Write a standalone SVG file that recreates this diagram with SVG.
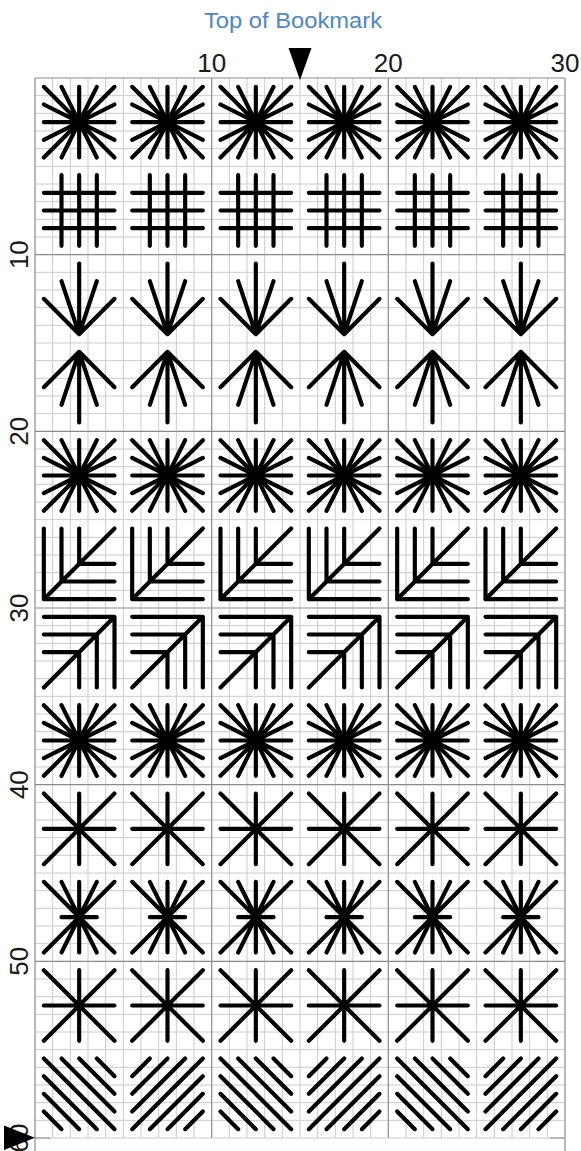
<svg xmlns="http://www.w3.org/2000/svg" xmlns:xlink="http://www.w3.org/1999/xlink" width="581" height="1151" viewBox="0 0 581 1151">
<style>
.minor{fill:none;stroke:#cbcbcb;stroke-width:1}
.major{fill:none;stroke:#8a8a8a;stroke-width:1.2}
.st{fill:none;stroke:#000;stroke-width:0.235;stroke-linecap:round;stroke-linejoin:round}
.num{font-family:"Liberation Sans",Arial,sans-serif;font-size:26px;fill:#1a1a1a;text-anchor:middle}
.title{font-family:"Liberation Sans",Arial,sans-serif;font-size:22px;fill:#4f87c6;text-anchor:middle}
.mark{fill:#000}
</style>
<defs>
<g id="star" transform="scale(17.6667)"><path class="st" d="M-2 0H2M0-2V2M-2-2L2 2M2-2L-2 2M-1-2L1 2M1-2L-1 2M-2-1L2 1M-2 1L2-1"/></g>
<g id="hash" transform="scale(17.6667)"><path class="st" d="M-2-1H2M-2 0H2M-2 1H2M-1-2V2M0-2V2M1-2V2"/></g>
<g id="down" transform="scale(17.6667)"><path class="st" d="M0-2V2M-1-1L0 2M1-1L0 2M-2 0L0 2M2 0L0 2"/></g>
<g id="up" transform="scale(17.6667)"><path class="st" d="M0 2V-2M-1 1L0-2M1 1L0-2M-2 0L0-2M2 0L0-2"/></g>
<g id="lcorner" transform="scale(17.6667)"><path class="st" d="M-2-2V2H2M-2 2L2-2M-1-2V1M0-2V0M0 0H2M-1 1H2"/></g>
<g id="rcorner" transform="scale(17.6667)"><path class="st" d="M-2-2H2V2M-2 2L2-2M-2-1H1M-2 0H0M0 0V2M1-1V2"/></g>
<g id="aster" transform="scale(17.6667)"><path class="st" d="M-2-2L2 2M2-2L-2 2M-2 0H2M0-2V2"/></g>
<g id="star2" transform="scale(17.6667)"><path class="st" d="M-2-2L2 2M2-2L-2 2M0-2V2M-1-2L1 2M1-2L-1 2M-1 0H1"/></g>
<g id="dback" transform="scale(17.6667)"><path class="st" d="M-2-2L2 2M-1-2L2 1M0-2L2 0M1-2L2-1M-2-1L1 2M-2 0L0 2M-2 1L-1 2"/></g>
<g id="dfwd" transform="scale(17.6667)"><path class="st" d="M-2 2L2-2M-2 1L1-2M-2 0L0-2M-2-1L-1-2M-1 2L2-1M0 2L2 0M1 2L2 1"/></g>
</defs>
<rect width="581" height="1151" fill="#fff"/>
<g id="grid">
<path class="minor" d="M52.667 78V1138M70.333 78V1138M88 78V1138M105.667 78V1138M123.333 78V1138M141 78V1138M158.667 78V1138M176.333 78V1138M194 78V1138M229.333 78V1138M247 78V1138M264.667 78V1138M282.333 78V1138M300 78V1138M317.667 78V1138M335.333 78V1138M353 78V1138M370.667 78V1138M406 78V1138M423.667 78V1138M441.333 78V1138M459 78V1138M476.667 78V1138M494.333 78V1138M512 78V1138M529.667 78V1138M547.333 78V1138"/>
<path class="minor" d="M35 95.667H565M35 113.333H565M35 131H565M35 148.667H565M35 166.333H565M35 184H565M35 201.667H565M35 219.333H565M35 237H565M35 272.333H565M35 290H565M35 307.667H565M35 325.333H565M35 343H565M35 360.667H565M35 378.333H565M35 396H565M35 413.667H565M35 449H565M35 466.667H565M35 484.333H565M35 502H565M35 519.667H565M35 537.333H565M35 555H565M35 572.667H565M35 590.333H565M35 625.667H565M35 643.333H565M35 661H565M35 678.667H565M35 696.333H565M35 714H565M35 731.667H565M35 749.333H565M35 767H565M35 802.333H565M35 820H565M35 837.667H565M35 855.333H565M35 873H565M35 890.667H565M35 908.333H565M35 926H565M35 943.667H565M35 979H565M35 996.667H565M35 1014.333H565M35 1032H565M35 1049.667H565M35 1067.333H565M35 1085H565M35 1102.667H565M35 1120.333H565M35 1138H565"/>
<path class="major" d="M211.667 78V1138M388.333 78V1138M35 254.667H565M35 431.333H565M35 608H565M35 784.667H565M35 961.333H565M35 78H565M35 78V1151M565 78V1151M35 1138H50M550 1138H565"/>
</g>
<g id="labels">
<text class="title" x="293" y="28" textLength="178" lengthAdjust="spacingAndGlyphs">Top of Bookmark</text>
<text class="num" x="211.667" y="71.5">10</text>
<text class="num" x="388.333" y="71.5">20</text>
<text class="num" x="565" y="71.5">30</text>
<text class="num" transform="translate(27.5,254.667) rotate(-90)">10</text>
<text class="num" transform="translate(27.5,431.333) rotate(-90)">20</text>
<text class="num" transform="translate(27.5,608) rotate(-90)">30</text>
<text class="num" transform="translate(27.5,784.667) rotate(-90)">40</text>
<text class="num" transform="translate(27.5,961.333) rotate(-90)">50</text>
<text class="num" transform="translate(27.5,1138) rotate(-90)">60</text>
</g>
<g id="markers">
<polygon id="top-marker" class="mark" points="288.5,48 311.5,48 300,80"/>
<polygon id="left-marker" class="mark" points="4,1125.5 4,1150 35,1137.8"/>
</g>
<g id="row01" transform="translate(0,122.167)"><use id="m01-1" href="#star" x="79.167"/><use id="m01-2" href="#star" x="167.5"/><use id="m01-3" href="#star" x="255.833"/><use id="m01-4" href="#star" x="344.167"/><use id="m01-5" href="#star" x="432.5"/><use id="m01-6" href="#star" x="520.833"/></g>
<g id="row02" transform="translate(0,210.5)"><use id="m02-1" href="#hash" x="79.167"/><use id="m02-2" href="#hash" x="167.5"/><use id="m02-3" href="#hash" x="255.833"/><use id="m02-4" href="#hash" x="344.167"/><use id="m02-5" href="#hash" x="432.5"/><use id="m02-6" href="#hash" x="520.833"/></g>
<g id="row03" transform="translate(0,298.833)"><use id="m03-1" href="#down" x="79.167"/><use id="m03-2" href="#down" x="167.5"/><use id="m03-3" href="#down" x="255.833"/><use id="m03-4" href="#down" x="344.167"/><use id="m03-5" href="#down" x="432.5"/><use id="m03-6" href="#down" x="520.833"/></g>
<g id="row04" transform="translate(0,387.167)"><use id="m04-1" href="#up" x="79.167"/><use id="m04-2" href="#up" x="167.5"/><use id="m04-3" href="#up" x="255.833"/><use id="m04-4" href="#up" x="344.167"/><use id="m04-5" href="#up" x="432.5"/><use id="m04-6" href="#up" x="520.833"/></g>
<g id="row05" transform="translate(0,475.5)"><use id="m05-1" href="#star" x="79.167"/><use id="m05-2" href="#star" x="167.5"/><use id="m05-3" href="#star" x="255.833"/><use id="m05-4" href="#star" x="344.167"/><use id="m05-5" href="#star" x="432.5"/><use id="m05-6" href="#star" x="520.833"/></g>
<g id="row06" transform="translate(0,563.833)"><use id="m06-1" href="#lcorner" x="79.167"/><use id="m06-2" href="#lcorner" x="167.5"/><use id="m06-3" href="#lcorner" x="255.833"/><use id="m06-4" href="#lcorner" x="344.167"/><use id="m06-5" href="#lcorner" x="432.5"/><use id="m06-6" href="#lcorner" x="520.833"/></g>
<g id="row07" transform="translate(0,652.167)"><use id="m07-1" href="#rcorner" x="79.167"/><use id="m07-2" href="#rcorner" x="167.5"/><use id="m07-3" href="#rcorner" x="255.833"/><use id="m07-4" href="#rcorner" x="344.167"/><use id="m07-5" href="#rcorner" x="432.5"/><use id="m07-6" href="#rcorner" x="520.833"/></g>
<g id="row08" transform="translate(0,740.5)"><use id="m08-1" href="#star" x="79.167"/><use id="m08-2" href="#star" x="167.5"/><use id="m08-3" href="#star" x="255.833"/><use id="m08-4" href="#star" x="344.167"/><use id="m08-5" href="#star" x="432.5"/><use id="m08-6" href="#star" x="520.833"/></g>
<g id="row09" transform="translate(0,828.833)"><use id="m09-1" href="#aster" x="79.167"/><use id="m09-2" href="#aster" x="167.5"/><use id="m09-3" href="#aster" x="255.833"/><use id="m09-4" href="#aster" x="344.167"/><use id="m09-5" href="#aster" x="432.5"/><use id="m09-6" href="#aster" x="520.833"/></g>
<g id="row10" transform="translate(0,917.167)"><use id="m10-1" href="#star2" x="79.167"/><use id="m10-2" href="#star2" x="167.5"/><use id="m10-3" href="#star2" x="255.833"/><use id="m10-4" href="#star2" x="344.167"/><use id="m10-5" href="#star2" x="432.5"/><use id="m10-6" href="#star2" x="520.833"/></g>
<g id="row11" transform="translate(0,1005.5)"><use id="m11-1" href="#aster" x="79.167"/><use id="m11-2" href="#aster" x="167.5"/><use id="m11-3" href="#aster" x="255.833"/><use id="m11-4" href="#aster" x="344.167"/><use id="m11-5" href="#aster" x="432.5"/><use id="m11-6" href="#aster" x="520.833"/></g>
<g id="row12" transform="translate(0,1093.833)"><use id="m12-1" href="#dback" x="79.167"/><use id="m12-2" href="#dfwd" x="167.5"/><use id="m12-3" href="#dback" x="255.833"/><use id="m12-4" href="#dfwd" x="344.167"/><use id="m12-5" href="#dback" x="432.5"/><use id="m12-6" href="#dfwd" x="520.833"/></g>
<g id="connectors"/>
</svg>
